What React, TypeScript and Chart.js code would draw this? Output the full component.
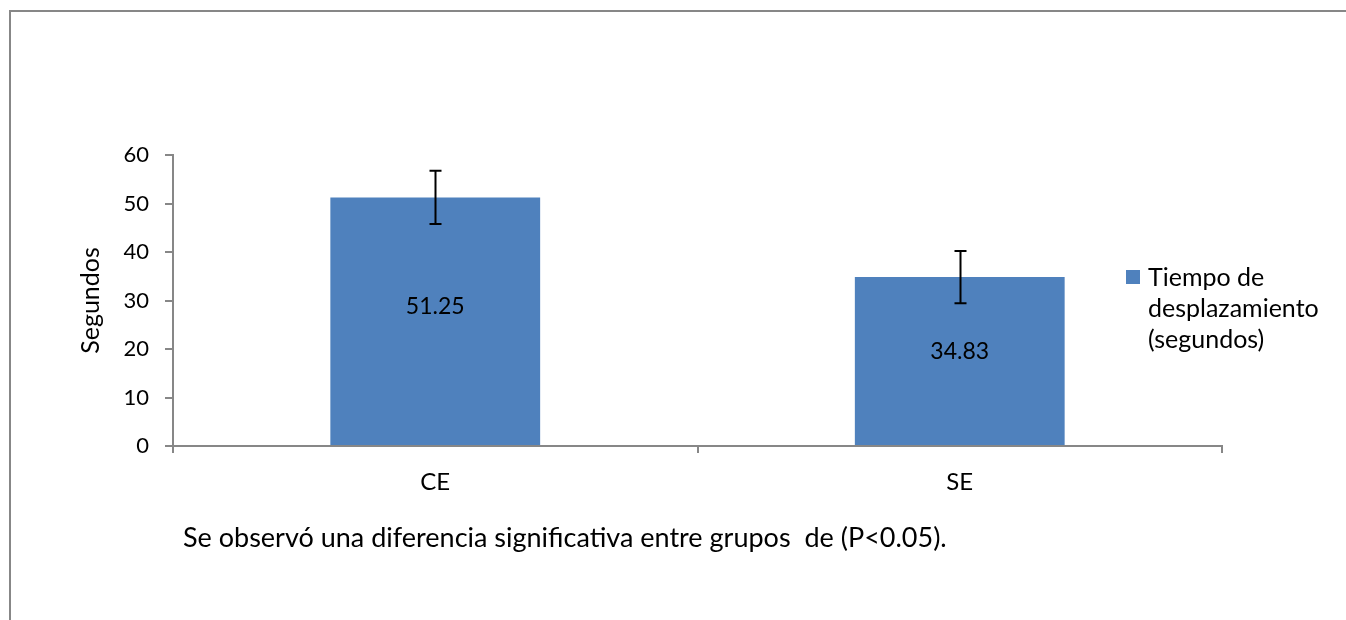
import React, { useEffect, useRef } from "react";
import { Chart, registerables } from "chart.js";

Chart.register(...registerables);

const categories = ["CE", "SE"];
const values = [51.25, 34.83];
const errors = [5.5, 5.4];
const yTicks = [0, 10, 20, 30, 40, 50, 60];
const seriesLabel = ["Tiempo de", "desplazamiento", "(segundos)"];
const yTitle = "Segundos";
const footnote = "Se observó una diferencia significativa entre grupos  de (P<0.05).";

const FONT = "Lato, 'Open Sans', sans-serif";
const GRAY = "#878787";
const BLUE = "#4F81BD";

export default function App() {
  const ref = useRef<HTMLCanvasElement | null>(null);

  useEffect(() => {
    document.body.style.margin = "0";
    const canvas = ref.current!;
    const decor = {
      id: "decor",
      beforeDraw(chart: any) {
        const ctx = chart.ctx;
        ctx.save();
        ctx.fillStyle = "#ffffff";
        ctx.fillRect(0, 0, chart.width, chart.height);
        ctx.strokeStyle = GRAY;
        ctx.lineWidth = 2;
        ctx.beginPath();
        ctx.moveTo(10, chart.height);
        ctx.lineTo(10, 11);
        ctx.lineTo(chart.width, 11);
        ctx.stroke();
        ctx.restore();
      },
      afterDraw(chart: any) {
        const ctx = chart.ctx;
        const area = chart.chartArea;
        const x = chart.scales.x;
        const y = chart.scales.y;
        ctx.save();
        // error bars
        ctx.strokeStyle = "#000000";
        ctx.lineWidth = 2;
        values.forEach((v, i) => {
          const cx = Math.round(x.getPixelForValue(i)) + 0.5;
          const top = y.getPixelForValue(v + errors[i]);
          const bot = y.getPixelForValue(v - errors[i]);
          ctx.beginPath();
          ctx.moveTo(cx, top);
          ctx.lineTo(cx, bot);
          ctx.moveTo(cx - 6, top);
          ctx.lineTo(cx + 6, top);
          ctx.moveTo(cx - 6, bot);
          ctx.lineTo(cx + 6, bot);
          ctx.stroke();
        });
        // data labels
        ctx.fillStyle = "#000000";
        ctx.font = `23px ${FONT}`;
        ctx.textAlign = "center";
        ctx.textBaseline = "middle";
        values.forEach((v, i) => {
          const cx = x.getPixelForValue(i);
          const cy = y.getPixelForValue(v * 0.56);
          ctx.fillText(v.toFixed(2), cx, cy);
        });
        // y title
        ctx.save();
        ctx.translate(91, (area.top + area.bottom) / 2);
        ctx.rotate(-Math.PI / 2);
        ctx.font = `25px ${FONT}`;
        ctx.textAlign = "center";
        ctx.textBaseline = "middle";
        ctx.fillText(yTitle, 0, 0);
        ctx.restore();
        // legend
        ctx.fillStyle = BLUE;
        ctx.fillRect(1126, 270, 14, 14);
        ctx.fillStyle = "#000000";
        ctx.font = `25px ${FONT}`;
        ctx.textAlign = "left";
        ctx.textBaseline = "alphabetic";
        seriesLabel.forEach((t, i) => {
          ctx.fillText(t, 1148, 286 + i * 31);
        });
        // footnote
        ctx.font = `27px ${FONT}`;
        ctx.fillText(footnote, 183, 547);
        ctx.restore();
      },
    };

    const chart = new Chart(canvas, {
      type: "bar",
      data: {
        labels: categories,
        datasets: [
          {
            label: seriesLabel.join(" "),
            data: values,
            backgroundColor: BLUE,
            borderWidth: 0,
            barPercentage: 0.4,
            categoryPercentage: 1,
          },
        ],
      },
      options: {
        animation: false,
        responsive: false,
        devicePixelRatio: 1,
        layout: { padding: { top: 155, right: 124, left: 0, bottom: 0 } },
        plugins: {
          legend: { display: false },
          tooltip: { enabled: false },
          title: { display: false },
        },
        scales: {
          x: {
            offset: true,
            grid: {
              offset: true,
              drawOnChartArea: false,
              drawTicks: true,
              tickLength: 7,
              color: GRAY,
              lineWidth: 2,
            },
            border: { display: true, color: GRAY, width: 2 },
            ticks: {
              color: "#000000",
              font: { family: FONT, size: 24 },
              padding: 15,
            },
            afterFit(scale: any) {
              scale.height = 174;
            },
          },
          y: {
            min: 0,
            max: 60,
            afterBuildTicks(scale: any) {
              scale.ticks = yTicks.map((v) => ({ value: v }));
            },
            grid: {
              drawOnChartArea: false,
              drawTicks: true,
              tickLength: 8,
              color: GRAY,
              lineWidth: 2,
            },
            border: { display: true, color: GRAY, width: 2 },
            ticks: {
              color: "#000000",
              font: { family: FONT, size: 22 },
              padding: 16,
            },
            afterFit(scale: any) {
              scale.width = 173;
            },
          },
        },
      },
      plugins: [decor],
    });
    return () => chart.destroy();
  }, []);

  return (
    <canvas
      ref={ref}
      width={1346}
      height={620}
      style={{ display: "block", width: 1346, height: 620 }}
    />
  );
}
